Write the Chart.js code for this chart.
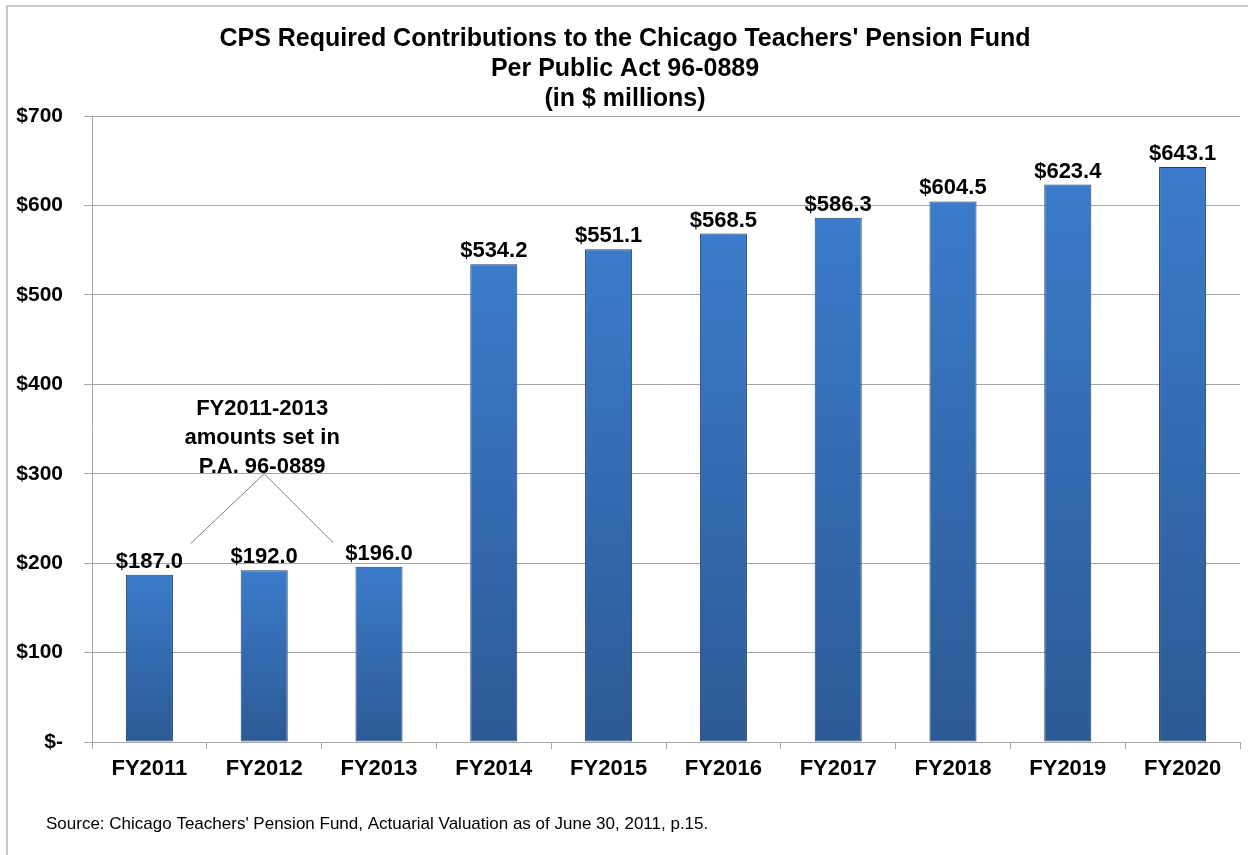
<!DOCTYPE html>
<html>
<head>
<meta charset="utf-8">
<script src="https://cdn.jsdelivr.net/npm/chart.js@4/dist/chart.umd.min.js"></script>
<style>
  html, body { margin: 0; padding: 0; background: #fff; }
  #wrap { position: relative; width: 1248px; height: 855px; }
</style>
</head>
<body>
<div id="wrap"><canvas id="chart" width="1248" height="855"></canvas></div>
<script>
const categories = ["FY2011", "FY2012", "FY2013", "FY2014", "FY2015", "FY2016", "FY2017", "FY2018", "FY2019", "FY2020"];
const contributions = [187.0, 192.0, 196.0, 534.2, 551.1, 568.5, 586.3, 604.5, 623.4, 643.1];
const yTicks = [0, 100, 200, 300, 400, 500, 600, 700];
const titleLines = [
  "CPS Required Contributions to the Chicago Teachers' Pension Fund",
  "Per Public Act 96-0889",
  "(in $ millions)"
];
const noteLines = ["FY2011-2013", "amounts set in", "P.A. 96-0889"];
const sourceText = "Source: Chicago Teachers' Pension Fund, Actuarial Valuation as of June 30, 2011, p.15.";

const BOLD = "bold 22px 'Liberation Sans', Arial, sans-serif";

// per-bar vertical gradient, lighter at the top
function barFill(context) {
  const chart = context.chart;
  const y = chart.scales.y;
  if (!y || typeof context.raw !== "number") return "#3671b9";
  const top = y.getPixelForValue(context.raw);
  const bottom = y.getPixelForValue(0);
  if (!Number.isFinite(top) || !Number.isFinite(bottom) || top === bottom) return "#3671b9";
  const g = chart.ctx.createLinearGradient(0, top, 0, bottom);
  g.addColorStop(0, "#3b7bcb");
  g.addColorStop(1, "#2c5a95");
  return g;
}

const framePlugin = {
  id: "framePlugin",
  beforeDraw(c) {
    const { ctx } = c;
    ctx.save();
    ctx.strokeStyle = "#c8c8c8";
    ctx.lineWidth = 2;
    ctx.strokeRect(7, 6, 1300, 900);
    ctx.restore();
  }
};

const labelPlugin = {
  id: "labelPlugin",
  afterDatasetsDraw(c) {
    const { ctx, scales } = c;
    const x = scales.x;
    const y = scales.y;
    ctx.save();

    // value labels above bars
    ctx.fillStyle = "#000";
    ctx.font = BOLD;
    ctx.textAlign = "center";
    ctx.textBaseline = "alphabetic";
    const meta = c.getDatasetMeta(0);
    meta.data.forEach((bar, i) => {
      ctx.fillText("$" + contributions[i].toFixed(1), bar.x, bar.y - 7);
    });

    // annotation for the first three years
    const step = x.getPixelForValue(1) - x.getPixelForValue(0);
    const apexX = x.getPixelForValue(1);
    const apexY = y.getPixelForValue(300);
    ctx.strokeStyle = "#7f7f7f";
    ctx.lineWidth = 1;
    ctx.beginPath();
    ctx.moveTo(x.getPixelForValue(0) + step * 0.36, y.getPixelForValue(222));
    ctx.lineTo(apexX, apexY);
    ctx.lineTo(x.getPixelForValue(2) - step * 0.4, y.getPixelForValue(223));
    ctx.stroke();

    ctx.textBaseline = "middle";
    noteLines.forEach((t, i) => {
      ctx.fillText(t, apexX - 2, y.getPixelForValue(372) + i * 29);
    });

    // source note
    ctx.textAlign = "left";
    ctx.font = "17px 'Liberation Sans Narrow', 'Arial Narrow', sans-serif";
    ctx.fillText(sourceText, 46, 824);
    ctx.restore();
  }
};

new Chart(document.getElementById("chart"), {
  type: "bar",
  data: {
    labels: categories,
    datasets: [{
      data: contributions,
      backgroundColor: barFill,
      borderColor: "#1f3d66",
      borderWidth: 1,
      borderSkipped: false,
      barPercentage: 0.41,
      categoryPercentage: 1
    }]
  },
  options: {
    responsive: false,
    animation: false,
    layout: { padding: { top: 0, left: 10, right: 8, bottom: 63 } },
    plugins: {
      legend: { display: false },
      tooltip: { enabled: false },
      title: {
        display: true,
        text: titleLines,
        color: "#000",
        font: { family: "'Liberation Sans Narrow', 'Arial Narrow', sans-serif", size: 25, weight: "bold", lineHeight: 1.2 },
        padding: { top: 24, bottom: 2 }
      }
    },
    scales: {
      x: {
        offset: true,
        afterFit(s) { s.height = 50; },
        grid: { offset: true, drawOnChartArea: false, tickLength: 7, color: "#a6a6a6" },
        border: { color: "#a6a6a6", width: 1 },
        ticks: { color: "#000", font: { family: "'Liberation Sans', Arial, sans-serif", size: 22, weight: "bold" }, padding: 7 }
      },
      y: {
        min: 0,
        max: 700,
        afterFit(s) { s.width = 82; },
        afterBuildTicks(s) { s.ticks = yTicks.map((v) => ({ value: v })); },
        grid: { color: "#a6a6a6", tickLength: 8 },
        border: { color: "#a6a6a6", width: 1 },
        ticks: {
          color: "#000",
          padding: 21,
          font: { family: "'Liberation Sans', Arial, sans-serif", size: 21, weight: "bold" },
          callback: (v) => (v === 0 ? "$-" : "$" + v)
        }
      }
    }
  },
  plugins: [framePlugin, labelPlugin]
});
</script>
</body>
</html>
